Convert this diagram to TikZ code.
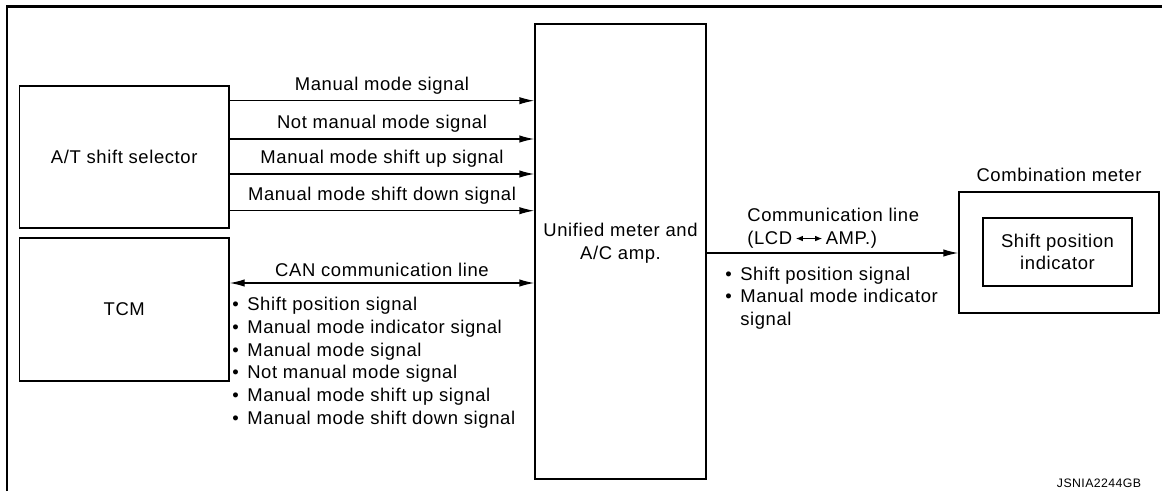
\documentclass[tikz,border=0pt]{standalone}
\usepackage{fontspec}
\setmainfont{Liberation Sans}[LetterSpace=3.3]
\usepackage{tikz}
\usetikzlibrary{positioning, calc, arrows.meta}

\newcommand{\sigbullet}{\makebox[8.5pt][l]{\textbullet}}

\begin{document}
\begin{tikzpicture}[x=0.02cm, y=-0.02cm, font=\fontsize{10.5}{12.9}\selectfont, >={Latex[length=8.5pt,width=4.2pt]}]
		\tikzstyle{unit}=[draw=black, line width=0.8pt, inner sep=0pt, align=center]
		\tikzstyle{sig}=[->, line width=0.7pt]
		\tikzstyle{siglist}=[anchor=north west, inner sep=0pt, align=left]

		\useasboundingbox (0,0) rectangle (1162,491);
		\draw[line width=1.7pt] (7,491) -- (7,6.5) -- (1162,6.5);

		\node (selector) at (124.25,157) [unit, minimum width=4.19cm, minimum height=2.84cm] {A/T shift selector};
		\node (tcm) at (124.25,309.5) [unit, minimum width=4.19cm, minimum height=2.86cm] {TCM};
		\node (amp) at (620.5,251.5) [unit, minimum width=3.42cm, minimum height=9.1cm] {};
		\node (amptext) at ($(amp.center)+(0,-8)$) [align=center, inner sep=0pt] {Unified meter and\\A/C amp.};

		\node (meter) at (1059,252.5) [unit, minimum width=4cm, minimum height=2.42cm] {};
		\node (indicator) at (1057.5,252) [unit, minimum width=2.98cm, minimum height=1.36cm] {Shift position\\indicator};
		\node (metertitle) [above=1.8pt of meter] {Combination meter};

		\foreach \y/\txt in {100.7/Manual mode signal, 139/Not manual mode signal, 174/Manual mode shift up signal, 210.7/Manual mode shift down signal}
			\draw[sig] (selector.east |- 0,\y) -- node[above] {\txt} (amp.west |- 0,\y);

		\draw[<->, line width=0.7pt] (tcm.east |- 0,283) -- node[above] {CAN communication line} (amp.west |- 0,283);
		\node (canlist) at (232,297) [siglist] {\sigbullet Shift position signal\\
			\sigbullet Manual mode indicator signal\\
			\sigbullet Manual mode signal\\
			\sigbullet Not manual mode signal\\
			\sigbullet Manual mode shift up signal\\
			\sigbullet Manual mode shift down signal};

		\draw[sig] (amp.east |- 0,253) -- (meter.west |- 0,253);
		\node (commtext) at (747,208) [siglist] {Communication line\\
			(LCD\,\tikz[baseline=-0.6ex]\draw[{Latex[length=4pt,width=3.2pt]}-{Latex[length=4pt,width=3.2pt]}, line width=0.6pt] (0pt,0pt) -- (15pt,0pt);\,AMP.)};
		\node (commlist) at (725,266.5) [siglist] {\sigbullet Shift position signal\\
			\sigbullet Manual mode indicator\\
			\hspace*{8.5pt}signal};

		\node (code) at (1099,483) {\fontsize{7}{8}\selectfont JSNIA2244GB};
\end{tikzpicture}
\end{document}
